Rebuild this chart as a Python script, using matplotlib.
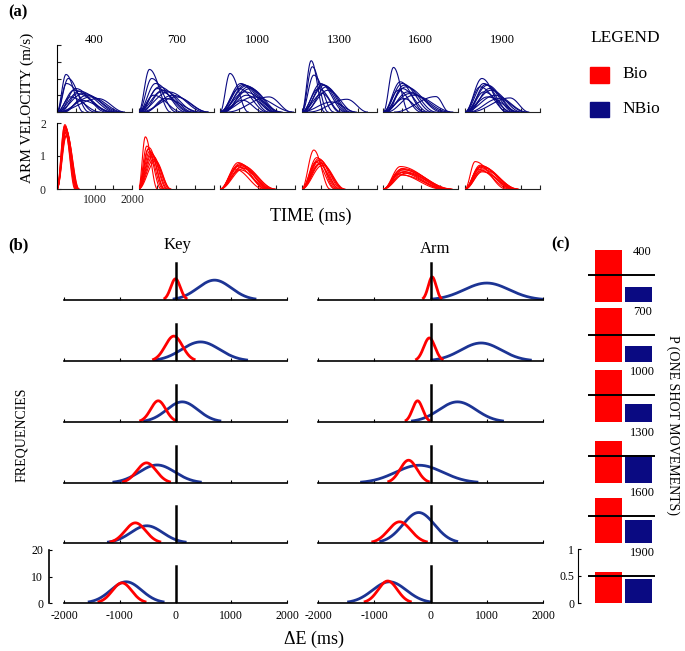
import numpy as np
import matplotlib
matplotlib.use("Agg")
import matplotlib.pyplot as plt
from matplotlib.patches import Rectangle

plt.rcParams['font.family'] = ['Liberation Serif', 'DejaVu Serif']
plt.rcParams['axes.unicode_minus'] = False

# ---------------- data ----------------
durations = [400, 700, 1000, 1300, 1600, 1900]

# panel (a): velocity traces (start ms, peak time ms, peak m/s, end ms)
nbio_400 = [(0, 240, 1.12, 700), (0, 300, 1.0, 850), (0, 250, 0.85, 1000), (50, 500, 0.70, 1300),
            (0, 450, 0.65, 1450), (0, 600, 0.62, 1550), (100, 550, 0.55, 1400), (0, 700, 0.55, 1700),
            (150, 800, 0.50, 1600), (0, 350, 0.45, 1150), (50, 900, 0.45, 1750), (200, 650, 0.35, 1500),
            (0, 1100, 0.40, 1800)]
nbio_700 = [(0, 290, 1.27, 850), (0, 350, 1.0, 1000), (0, 450, 0.85, 1250), (0, 550, 0.75, 1450),
            (50, 500, 0.70, 1350), (0, 650, 0.65, 1550), (100, 600, 0.60, 1400), (0, 800, 0.60, 1750),
            (150, 900, 0.50, 1850), (0, 400, 0.50, 1150), (50, 1000, 0.45, 1850), (200, 700, 0.40, 1650)]
nbio_1000 = [(0, 260, 1.15, 750), (0, 550, 0.85, 1300), (0, 600, 0.82, 1400), (50, 650, 0.80, 1450),
             (0, 700, 0.78, 1500), (100, 750, 0.75, 1550), (0, 500, 0.70, 1250), (50, 800, 0.70, 1600),
             (0, 650, 0.60, 1650), (100, 700, 0.50, 1450), (0, 900, 0.45, 1950), (200, 1300, 0.45, 1900),
             (0, 600, 0.35, 1150)]
nbio_1300 = [(0, 250, 1.53, 600), (0, 280, 1.35, 700), (0, 320, 1.10, 850), (0, 500, 0.85, 1150),
             (50, 550, 0.82, 1200), (0, 600, 0.80, 1250), (100, 650, 0.75, 1300), (0, 450, 0.70, 1050),
             (50, 700, 0.65, 1400), (0, 550, 0.55, 1000), (200, 1200, 0.38, 1750), (0, 800, 0.30, 1450)]
nbio_1600 = [(0, 270, 1.33, 680), (0, 450, 0.90, 1100), (0, 500, 0.85, 1300), (50, 550, 0.80, 1400),
             (0, 600, 0.75, 1550), (100, 500, 0.70, 1200), (0, 400, 0.65, 1000), (50, 650, 0.60, 1650),
             (0, 700, 0.55, 1750), (300, 1400, 0.46, 1750), (100, 800, 0.50, 1850), (0, 550, 0.40, 1100)]
nbio_1900 = [(0, 450, 1.0, 1100), (0, 500, 0.85, 1200), (50, 550, 0.82, 1300), (0, 600, 0.80, 1350),
             (0, 400, 0.75, 1150), (100, 650, 0.70, 1400), (0, 700, 0.65, 1500), (50, 500, 0.60, 1250),
             (0, 800, 0.50, 1650), (150, 1200, 0.42, 1700), (0, 600, 0.45, 1450), (100, 900, 0.40, 1600)]

bio_400 = [(0, 210, 1.95, 520), (0, 220, 1.90, 540), (0, 230, 1.85, 560), (0, 240, 1.80, 580),
           (0, 250, 1.75, 560), (0, 220, 1.70, 500), (0, 260, 1.65, 590), (0, 200, 1.90, 480),
           (0, 240, 1.60, 550), (0, 230, 1.78, 530)]
bio_700 = [(0, 180, 1.58, 500), (0, 220, 1.30, 600), (0, 250, 1.20, 650), (0, 300, 1.15, 700),
           (0, 330, 1.10, 750), (0, 350, 1.05, 780), (0, 380, 1.0, 820), (0, 400, 0.90, 860),
           (0, 280, 1.25, 680), (0, 450, 0.85, 850)]
bio_1000 = [(0, 480, 0.80, 1200), (0, 520, 0.77, 1300), (0, 550, 0.74, 1400), (0, 500, 0.72, 1350),
            (0, 600, 0.70, 1450), (0, 450, 0.68, 1250), (0, 560, 0.65, 1380), (0, 620, 0.62, 1470),
            (0, 400, 0.60, 1150), (0, 530, 0.58, 1300)]
bio_1300 = [(0, 320, 1.18, 750), (0, 400, 0.95, 900), (0, 450, 0.92, 1000), (0, 480, 0.88, 1050),
            (0, 430, 0.85, 950), (0, 500, 0.80, 1100), (0, 520, 0.78, 1150), (0, 380, 0.82, 880),
            (0, 460, 0.75, 1000), (0, 550, 0.72, 1120)]
bio_1600 = [(0, 450, 0.68, 1750), (0, 500, 0.62, 1800), (0, 480, 0.60, 1700), (0, 520, 0.58, 1830),
            (0, 430, 0.55, 1650), (0, 550, 0.52, 1780), (0, 470, 0.50, 1600), (0, 600, 0.48, 1700),
            (0, 400, 0.45, 1550), (0, 500, 0.42, 1650)]
bio_1900 = [(0, 270, 0.83, 1100), (0, 400, 0.72, 1300), (0, 430, 0.70, 1350), (0, 450, 0.68, 1400),
            (0, 380, 0.66, 1250), (0, 480, 0.64, 1380), (0, 350, 0.60, 1200), (0, 500, 0.58, 1420),
            (0, 420, 0.55, 1300), (0, 460, 0.52, 1350)]

# panel (b): distributions of Delta E (mean ms, sd ms, peak frequency)
key_bio_mean = [0, -30, -310, -520, -720, -960]
key_bio_sd = [85, 155, 135, 175, 185, 175]
key_bio_peak = [8.0, 9.4, 8.0, 7.6, 7.6, 7.6]
key_nbio_mean = [700, 450, 120, -330, -515, -885]
key_nbio_sd = [300, 340, 280, 320, 285, 275]
key_nbio_peak = [7.5, 7.2, 7.6, 6.8, 6.5, 8.0]

arm_bio_mean = [30, -20, -230, -390, -550, -760]
arm_bio_sd = [70, 100, 90, 150, 200, 170]
arm_bio_peak = [8.7, 8.7, 8.0, 8.6, 8.0, 8.3]
arm_nbio_mean = [1000, 900, 480, -200, -210, -730]
arm_nbio_sd = [400, 360, 330, 420, 280, 300]
arm_nbio_peak = [6.4, 6.8, 7.6, 6.7, 11.5, 8.0]

# panel (c): P(one shot movements)
p_bio = [0.96, 1.0, 0.96, 0.78, 0.83, 0.57]
p_nbio = [0.28, 0.30, 0.33, 0.52, 0.43, 0.44]
chance = 0.5

RED = '#ff0000'
NAVY = '#0a0a82'
BBLUE = '#1c3494'

# ---------------- layout helpers ----------------
W, H = 685, 651
fig = plt.figure(figsize=(W / 100, H / 100), dpi=100)


def add_ax(l, t, w, h):
    return fig.add_axes([l / W, 1 - (t + h) / H, w / W, h / H])


def ftext(x, y, s, **kw):
    fig.text(x / W, 1 - y / H, s, **kw)


def bell(tr):
    s, p, v, e = tr
    t1 = np.linspace(s, p, 40)
    t2 = np.linspace(p, e, 60)[1:]
    v1 = v * (1 - np.cos(np.pi * (t1 - s) / (p - s))) / 2
    v2 = v * (1 + np.cos(np.pi * (t2 - p) / (e - p))) / 2
    return np.concatenate([t1, t2]), np.concatenate([v1, v2])


def gauss(m, sd, pk):
    x = np.linspace(m - 2.5 * sd, m + 2.5 * sd, 200)
    return x, pk * np.exp(-0.5 * ((x - m) / sd) ** 2)


def clean(ax, left=False):
    for sp in ['top', 'right']:
        ax.spines[sp].set_visible(False)
    ax.spines['left'].set_visible(left)
    ax.patch.set_alpha(0)


# ---------------- panel (a) ----------------
nbio_all = [nbio_400, nbio_700, nbio_1000, nbio_1300, nbio_1600, nbio_1900]
bio_all = [bio_400, bio_700, bio_1000, bio_1300, bio_1600, bio_1900]
for i, d in enumerate(durations):
    left = 57 + i * 81.6
    for row, (traces, col, top, hgt) in enumerate([(nbio_all[i], NAVY, 45, 67), (bio_all[i], RED, 123, 66)]):
        ax = add_ax(left, top, 75, hgt)
        for tr in traces:
            t, v = bell(tr)
            ax.plot(t, v, color=col, lw=0.8)
        ax.set_xlim(0, 2000)
        ax.set_ylim(0, 2)
        clean(ax, left=(i == 0))
        ax.spines['bottom'].set_color('#222222')
        ax.set_xticks([0, 500, 1000, 1500, 2000])
        ax.tick_params(direction='in', length=3, width=0.8, colors='#222222', labelsize=8.5)
        if i == 0 and row == 1:
            ax.set_xticks([0, 500, 1000, 1500, 2000], ['', '', '1000', '', '2000'])
            ax.set_yticks([0, 1, 2])
            ax.tick_params(axis='y', pad=8)
        else:
            ax.set_xticklabels([])
            if i == 0:
                ax.set_yticks([0, 0.5, 1, 1.5, 2])
                ax.set_yticklabels([])
            else:
                ax.set_yticks([])
        if row == 0:
            ftext(left + 37.5, 40, str(d), ha='center', va='center', fontsize=9)

ftext(8, 12, '(a)', fontsize=12, fontweight='bold', va='center', ha='left')
ftext(27, 108, 'ARM VELOCITY (m/s)', rotation=90, ha='center', va='center', fontsize=11)
ftext(311, 216, 'TIME (ms)', ha='center', va='center', fontsize=13)

# legend
ftext(625, 38, 'LEGEND', ha='center', va='center', fontsize=12.5)
fig.patches.append(Rectangle((590 / W, 1 - 83 / H), 19 / W, 16 / H, transform=fig.transFigure,
                             color=RED, figure=fig))
fig.patches.append(Rectangle((590 / W, 1 - 117 / H), 19 / W, 15 / H, transform=fig.transFigure,
                             color=NAVY, figure=fig))
ftext(622, 74, 'Bio', ha='left', va='center', fontsize=12.5)
ftext(622, 109, 'NBio', ha='left', va='center', fontsize=12.5)

# ---------------- panel (b) ----------------
b_base = [300, 361, 422, 483, 543, 603]
cols = [
    (64, 223, key_bio_mean, key_bio_sd, key_bio_peak, key_nbio_mean, key_nbio_sd, key_nbio_peak),
    (318, 225, arm_bio_mean, arm_bio_sd, arm_bio_peak, arm_nbio_mean, arm_nbio_sd, arm_nbio_peak),
]
for c, (l, w, bm, bs, bp, nm, ns, npk) in enumerate(cols):
    for r in range(6):
        ax = add_ax(l, b_base[r] - 53, w, 53)
        x, y = gauss(nm[r], ns[r], npk[r])
        ax.plot(x, y, color=BBLUE, lw=2.0, solid_capstyle='butt')
        x, y = gauss(bm[r], bs[r], bp[r])
        ax.plot(x, y, color=RED, lw=2.0, solid_capstyle='butt')
        ax.plot([0, 0], [0, 14], color='black', lw=1.8)
        ax.set_xlim(-2000, 2000)
        ax.set_ylim(0, 20)
        clean(ax, left=(c == 0 and r == 5))
        ax.spines['bottom'].set_linewidth(1.2)
        ax.set_xticks([-2000, -1000, 0, 1000, 2000])
        ax.tick_params(direction='in', length=2.5, width=0.8, labelsize=8.5, pad=5)
        if r < 5:
            ax.set_xticklabels([])
        if c == 0 and r == 5:
            ax.spines['left'].set_position(('outward', 11))
            ax.spines['left'].set_linewidth(1.2)
            ax.set_yticks([0, 10, 20])
            ax.tick_params(axis='y', pad=4)
        else:
            ax.set_yticks([])

ftext(8, 245, '(b)', fontsize=12, fontweight='bold', va='center', ha='left')
ftext(177, 245, 'Key', ha='center', va='center', fontsize=12)
ftext(435, 249, 'Arm', ha='center', va='center', fontsize=12)
ftext(22, 435, 'FREQUENCIES', rotation=90, ha='center', va='center', fontsize=10)
ftext(314, 639, 'ΔE (ms)', ha='center', va='center', fontsize=13)

# ---------------- panel (c) ----------------
c_base = [302, 362, 422, 483, 543, 603]
for r in range(6):
    ax = add_ax(588, c_base[r] - 54, 67, 54)
    ax.bar([1, 2], [p_bio[r], p_nbio[r]], width=0.88, color=[RED, NAVY])
    ax.axhline(chance, color='black', lw=1.4)
    ax.set_xlim(0.32, 2.55)
    ax.set_ylim(0, 1)
    clean(ax, left=(r == 5))
    ax.spines['bottom'].set_visible(False)
    ax.set_xticks([])
    ax.text(0.81, 0.93, str(durations[r]), transform=ax.transAxes, ha='center', va='center', fontsize=9)
    if r == 5:
        ax.spines['left'].set_position(('outward', 7))
        ax.set_yticks([0, 0.5, 1], ['0', '0.5', '1'])
        ax.tick_params(axis='y', direction='in', length=2.5, labelsize=8.5, pad=3)
    else:
        ax.set_yticks([])

ftext(561, 244, '(c)', fontsize=12, fontweight='bold', va='center', ha='center')
ftext(673, 425, 'P (ONE SHOT MOVEMENTS)', rotation=270, ha='center', va='center', fontsize=10)

fig.savefig('out.png', dpi=100)
